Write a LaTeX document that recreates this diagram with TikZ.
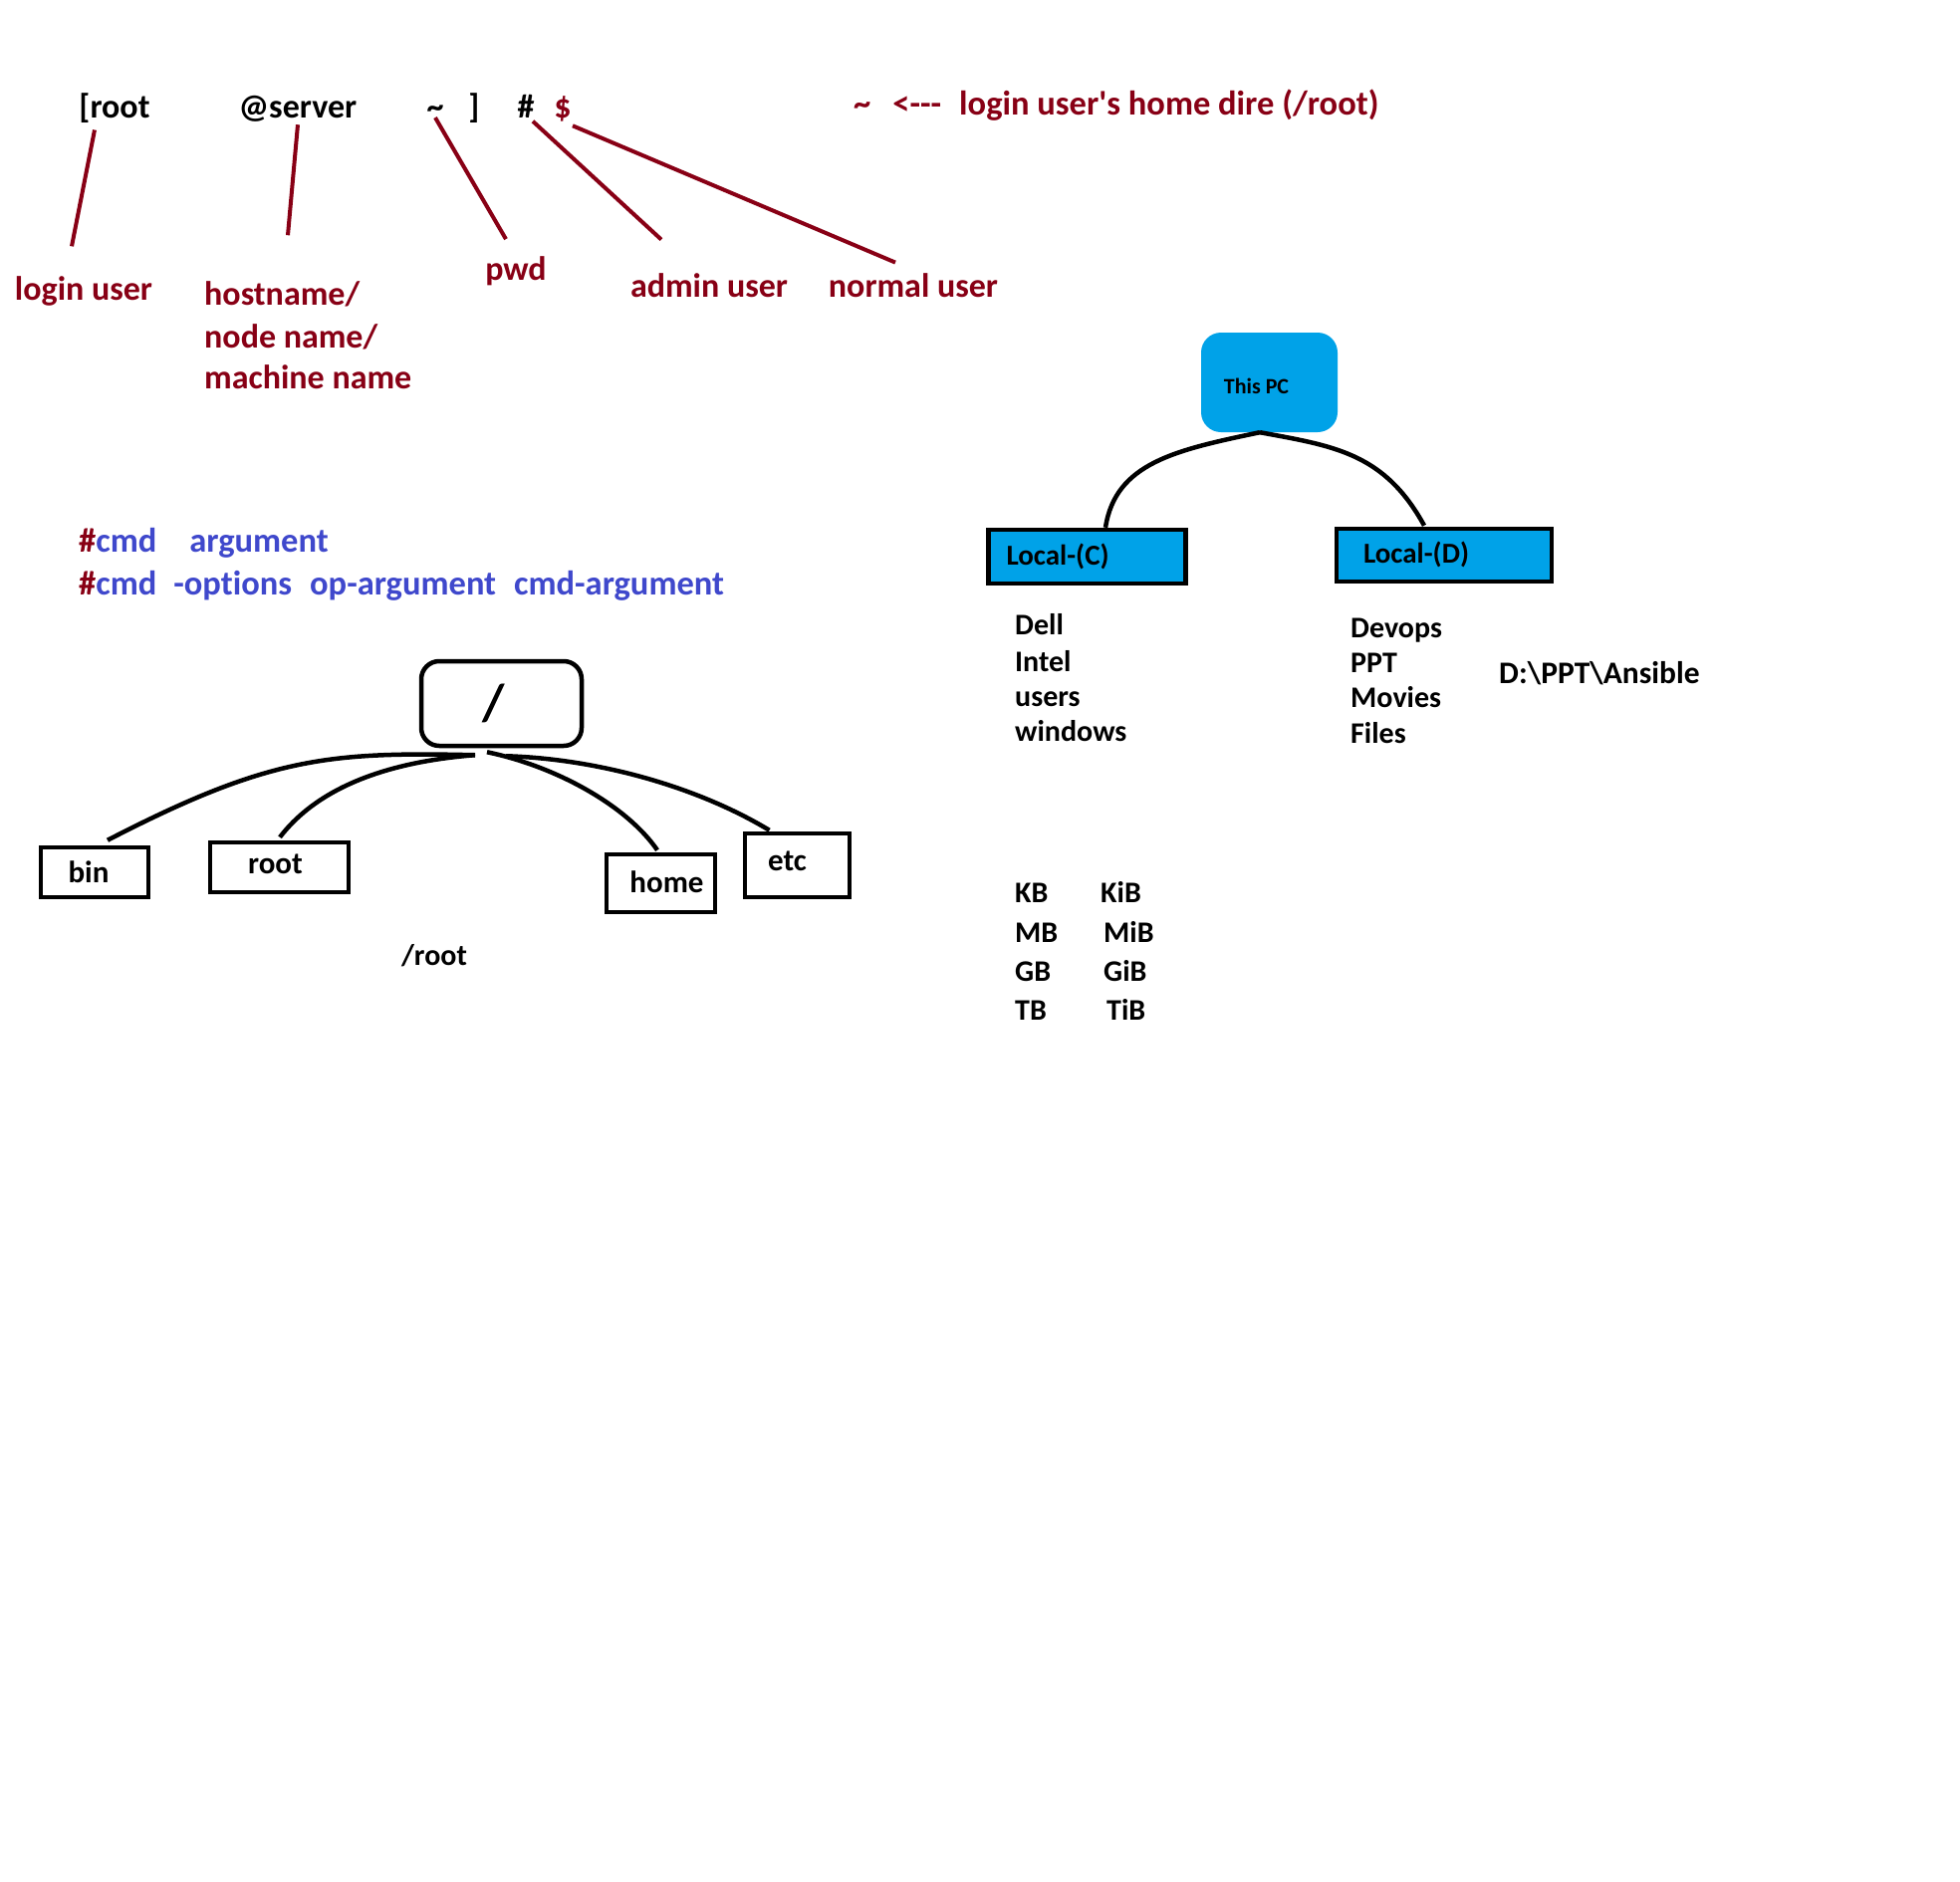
\documentclass[tikz,border=0pt]{standalone}
\usepackage{fontspec}
\setmainfont{Carlito}[Ligatures=NoCommon]
\usetikzlibrary{calc}
\definecolor{dred}{RGB}{136,0,21}
\definecolor{indig}{RGB}{63,72,204}
\definecolor{turq}{RGB}{0,162,232}
\begin{document}
\begin{tikzpicture}[x=1pt,y=-1pt,
  lbl/.style={font=\fontsize{34}{42}\selectfont\bfseries, inner sep=0pt, yshift=-9pt},
  redlbl/.style={lbl, text=dred},
  cmdlbl/.style={lbl, anchor=mid west, text=indig, font=\fontsize{34.5}{42}\selectfont\bfseries},
  blk/.style={font=\fontsize{30}{38}\selectfont\bfseries, inner sep=0pt, anchor=mid west, yshift=-9pt},
  redline/.style={draw=dred, line width=4pt},
  treeline/.style={draw=black, line width=4.5pt},
  dirbox/.style={draw=black, line width=4.5pt, inner sep=0pt, font=\fontsize{31}{38}\selectfont\bfseries},
  drivebox/.style={draw=black, fill=turq, line width=4.5pt, inner ysep=0pt, align=left, text width=162pt, font=\fontsize{29}{35}\selectfont\bfseries}
]
\useasboundingbox[fill=white] (0,0) rectangle (1968,1890);

% ---- prompt line ----
\node[lbl, anchor=mid] (t1) at (115,107) {[root};
\node[lbl, anchor=mid] (t2) at (299,107) {@server};
\node[lbl, anchor=mid] (t3) at (437,107) {\textasciitilde};
\node[lbl, anchor=mid] (t4) at (476,107) {]};
\node[lbl, anchor=mid] (t5) at (528,107) {\#};
\node[redlbl, anchor=mid] (t6) at (565,107) {\$};
\node[redlbl, anchor=mid west, font=\fontsize{34.5}{42}\selectfont\bfseries] (home) at (857,104) {\textasciitilde\hspace{22pt}<{-}{-}{-}\hspace{18pt}login user\textquotesingle s home dire (/root)};

% ---- labels ----
\node[redlbl, anchor=mid] (lu) at (84,290) {login user};
\node[redlbl, anchor=mid west] (hn1) at (205,295) {hostname/};
\node[redlbl, anchor=mid west] (hn2) at (205,338) {node name/};
\node[redlbl, anchor=mid west] (hn3) at (205,379) {machine name};
\node[redlbl, anchor=mid] (pwd) at (518,270) {pwd};
\node[redlbl, anchor=mid] (adm) at (712,287) {admin user};
\node[redlbl, anchor=mid] (nrm) at (917,287) {normal user};

\draw[redline] ($(t1)+(-20,22)$) -- ($(lu)+(-12,-45)$);
\draw[redline] ($(t2)+(0,16)$) -- ($(hn1.west)+(84,-59)$);
\draw[redline] ($(t3)+(0,6)$) -- ($(pwd)+(-10,-32)$);
\draw[redline] ($(t5)+(7,15)$) -- ($(adm)+(-48,-46)$);
\draw[redline] ($(t6)+(10,17)$) -- ($(nrm)+(-18,-23)$);

% ---- command syntax ----
\node[cmdlbl] (c1) at (79,543) {\textcolor{dred}{\#}cmd\hspace{33pt}argument};
\node[cmdlbl] (c2) at (79,586) {\textcolor{dred}{\#}cmd\hspace{17pt}-options\hspace{18pt}op-argument\hspace{18pt}cmd-argument};

% ---- Linux tree ----
\node[dirbox, rounded corners=18pt, minimum width=161pt, minimum height=85pt, font=\fontsize{52}{60}\selectfont\bfseries] (rt) at (503.5,706.5) {\hspace{-16pt}/};
\node[dirbox, minimum width=108pt, minimum height=50pt] (bin) at (95,876) {\hspace{-12pt}bin};
\node[dirbox, minimum width=139pt, minimum height=50pt] (rootd) at (280.5,871) {\raisebox{6pt}{\hspace{-8pt}root}};
\node[dirbox, minimum width=109pt, minimum height=58pt] (homed) at (663.5,887) {\raisebox{2pt}{\hspace{12pt}home}};
\node[dirbox, minimum width=105pt, minimum height=64pt] (etc) at (800.5,869) {\raisebox{8pt}{\hspace{-20pt}etc}};
\node[blk, anchor=mid] (rpath) at (436,958) {/root};

\draw[treeline] ($(rt.south)+(-26.5,7)$) .. controls (330,755) and (270,760) .. ($(bin.north)+(13,-5)$);
\draw[treeline] ($(rt.south)+(-26.5,7)$) .. controls (390,765) and (320,790) .. ($(rootd.north)+(0.5,-3)$);
\draw[treeline] ($(rt.south)+(-14.5,4)$) .. controls (560,770) and (630,810) .. ($(homed.north)+(-3.5,-2)$);
\draw[treeline] ($(rt.south)+(4.5,8)$) .. controls (600,762) and (700,790) .. ($(etc.north)+(-28,-1)$);

% ---- Windows tree ----
\node[fill=turq, rounded corners=20pt, minimum width=137pt, minimum height=100pt, inner sep=0pt, font=\fontsize{22}{26}\selectfont\bfseries] (pc) at (1274.5,384) {\raisebox{-11pt}[0pt][0pt]{\hspace{-26pt}This PC}};
\node[drivebox, inner xsep=18pt, minimum height=54pt] (lc) at (1091.5,559) {Local-(C)};
\node[drivebox, inner xsep=27pt, minimum height=53pt] (ld) at (1450,557.5) {\raisebox{6pt}{Local-(D)}};

\draw[treeline] ($(pc.south)+(-9.5,0)$) .. controls (1180,452) and (1120,465) .. ($(lc.north)+(18.5,0)$);
\draw[treeline] ($(pc.south)+(-9.5,0)$) .. controls (1340,448) and (1390,455) .. ($(ld.north)+(-20,-1)$);

\node[blk] (dell) at (1019,626) {Dell};
\node[blk] (intel) at (1019,663) {Intel};
\node[blk] (users) at (1019,698) {users};
\node[blk] (win) at (1019,733) {windows};

\node[blk] (devops) at (1356,629) {Devops};
\node[blk] (ppt) at (1356,664) {PPT};
\node[blk] (movies) at (1356,699) {Movies};
\node[blk] (files) at (1356,735) {Files};

\node[blk, font=\fontsize{31.5}{38}\selectfont\bfseries] (dpath) at (1505,675) {D:\textbackslash PPT\textbackslash Ansible};

% ---- units ----
\node[blk] (kb) at (1019,895) {KB};
\node[blk] (mb) at (1019,935) {MB};
\node[blk] (gb) at (1019,974) {GB};
\node[blk] (tb) at (1019,1013) {TB};
\node[blk] (kib) at (1105,895) {KiB};
\node[blk] (mib) at (1108,935) {MiB};
\node[blk] (gib) at (1108,974) {GiB};
\node[blk] (tib) at (1111,1013) {TiB};
\end{tikzpicture}
\end{document}
